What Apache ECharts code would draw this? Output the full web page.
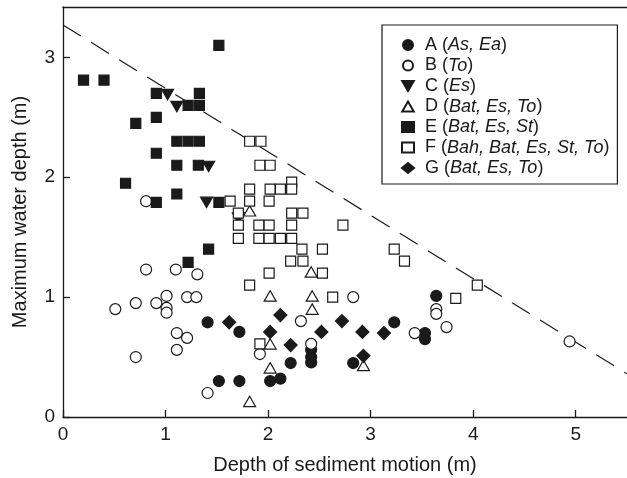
<!DOCTYPE html>
<html>
<head>
<meta charset="utf-8">
<script src="https://cdn.jsdelivr.net/npm/echarts@6/dist/echarts.min.js"></script>
<style>
  html, body { margin: 0; padding: 0; background: #fff; }
  #chart { width: 627px; height: 478px; }
</style>
</head>
<body>
<div id="chart"></div>
<script>
// group letters and the taxa that go in italics in the legend
const groupNames = ["A", "B", "C", "D", "E", "F", "G"];
const groupTaxa = ["As, Ea", "To", "Es", "Bat, Es, To", "Bat, Es, St", "Bah, Bat, Es, St, To", "Bat, Es, To"];

// depth of sediment motion (m) and maximum water depth (m), per group
const aDepth = [1.41, 1.72, 1.52, 1.72, 2.02, 2.12, 2.22, 2.42, 2.42, 2.42, 2.83, 3.23, 3.53, 3.53, 3.64];
const aWater = [0.79, 0.71, 0.30, 0.30, 0.30, 0.32, 0.45, 0.56, 0.50, 0.455, 0.45, 0.79, 0.70, 0.65, 1.01];

const bDepth = [0.81, 0.81, 1.10, 1.31, 0.51, 0.71, 0.91, 1.01, 1.01, 1.01, 1.21, 1.30, 1.11, 1.21, 1.11, 0.71, 1.41, 1.92, 2.32, 2.42, 2.83, 3.43, 3.64, 3.64, 3.74, 4.94];
const bWater = [1.80, 1.23, 1.23, 1.19, 0.90, 0.95, 0.95, 1.01, 0.91, 0.87, 1.00, 1.00, 0.70, 0.66, 0.56, 0.50, 0.20, 0.525, 0.80, 0.61, 1.00, 0.70, 0.90, 0.86, 0.75, 0.63];

const cDepth = [1.02, 1.11, 1.42, 1.40, 1.71];
const cWater = [2.69, 2.59, 2.09, 1.79, 1.66];

const dDepth = [1.82, 2.42, 2.02, 2.43, 2.43, 2.02, 2.93, 2.02, 1.82];
const dWater = [1.72, 1.21, 1.01, 1.01, 0.90, 0.61, 0.43, 0.41, 0.13];

const eDepth = [1.52, 0.20, 0.40, 0.91, 1.33, 1.22, 1.33, 0.71, 0.91, 1.11, 1.22, 1.33, 0.91, 1.11, 1.32, 0.61, 0.91, 1.11, 1.52, 1.42, 1.22];
const eWater = [3.10, 2.81, 2.81, 2.70, 2.70, 2.60, 2.60, 2.45, 2.50, 2.30, 2.30, 2.30, 2.20, 2.10, 2.10, 1.95, 1.79, 1.86, 1.79, 1.40, 1.29];

const fDepth = [1.82, 1.93, 1.92, 2.02, 2.23, 1.82, 2.02, 2.12, 2.23, 1.63, 1.82, 2.01, 1.71, 2.23, 2.34, 1.71, 1.91, 2.01, 2.23, 2.73, 1.71, 1.91, 2.01, 2.12, 2.23, 2.33, 2.53, 3.23, 2.22, 2.34, 3.33, 2.53, 2.01, 1.82, 2.63, 1.92, 3.83, 4.04];
const fWater = [2.30, 2.30, 2.10, 2.10, 1.96, 1.90, 1.90, 1.90, 1.90, 1.80, 1.80, 1.80, 1.70, 1.70, 1.70, 1.60, 1.60, 1.60, 1.60, 1.60, 1.49, 1.49, 1.49, 1.49, 1.49, 1.40, 1.40, 1.40, 1.30, 1.30, 1.30, 1.20, 1.20, 1.10, 1.00, 0.61, 0.99, 1.10];

const gDepth = [1.62, 2.12, 2.72, 2.02, 2.52, 2.92, 3.13, 2.22, 2.93];
const gWater = [0.79, 0.85, 0.80, 0.71, 0.71, 0.71, 0.70, 0.60, 0.51];

// dashed limit line
const limitDepth = [0, 5.5];
const limitWater = [3.27, 0.36];

const xTicks = [0, 1, 2, 3, 4, 5];
const yTicks = [0, 1, 2, 3];

const ink = "#1a1a1a";
const font = "Liberation Sans";

const groupDepth = [aDepth, bDepth, cDepth, dDepth, eDepth, fDepth, gDepth];
const groupWater = [aWater, bWater, cWater, dWater, eWater, fWater, gWater];

const triDown = "path://M0,0L10,0L5,8.66Z";
const triUp = "path://M5,0L10,8.66L0,8.66Z";

// marker look for each group
const markerStyle = [
    { symbol: "circle", size: 11, fill: ink },
    { symbol: "circle", size: 11, fill: "#fff" },
    { symbol: triDown, size: 12, fill: ink },
    { symbol: triUp, size: 12, fill: "#fff" },
    { symbol: "rect", size: 10, fill: ink },
    { symbol: "rect", size: 10, fill: "#fff" },
    { symbol: "diamond", size: 13, fill: ink },
];

function zip(xs, ys) {
    return xs.map((x, i) => [x, ys[i]]);
}

const series = [{
    name: "limit",
    type: "line",
    data: zip(limitDepth, limitWater),
    symbol: "none",
    silent: true,
    z: 1,
    lineStyle: { color: ink, width: 1.2, type: [21, 12] },
}];

groupNames.forEach((name, i) => {
    const st = markerStyle[i];
    series.push({
        name: name,
        type: "scatter",
        data: zip(groupDepth[i], groupWater[i]),
        symbol: st.symbol,
        symbolSize: st.size,
        symbolKeepAspect: true,
        z: 3,
        itemStyle: { color: st.fill, borderColor: ink, borderWidth: 1.2, opacity: 1 },
    });
});

const chart = echarts.init(document.getElementById("chart"), null, { renderer: "canvas" });

chart.setOption({
    animation: false,
    backgroundColor: "#fff",
    grid: { left: 63, right: 0, top: 7, bottom: 61, containLabel: false, outerBoundsMode: "none" },
    legend: {
        data: groupNames.map((name, i) => ({ name: name, icon: markerStyle[i].symbol })),
        orient: "vertical",
        left: 382,
        top: 25,
        itemWidth: 12,
        itemHeight: 10,
        itemGap: 2.5,
        symbolKeepAspect: true,
        padding: [11, 8, 7, 19],
        borderColor: ink,
        borderWidth: 1.2,
        selectedMode: false,
        formatter: name => name + " ({i|" + groupTaxa[groupNames.indexOf(name)] + "})",
        textStyle: {
            fontFamily: font, fontSize: 18, color: ink, lineHeight: 18, padding: [0, 0, 0, 6],
            rich: { i: { fontFamily: font, fontSize: 18, fontStyle: "italic", color: ink, lineHeight: 18 } },
        },
    },
    xAxis: [{
        type: "value",
        min: 0,
        max: 5.5,
        interval: 1,
        name: "Depth of sediment motion (m)",
        nameLocation: "middle",
        nameGap: 38,
        nameTextStyle: { fontFamily: font, fontSize: 20, color: ink },
        splitLine: { show: false },
        axisLine: { lineStyle: { color: ink, width: 1.3 } },
        axisTick: { inside: true, length: 7, customValues: xTicks, lineStyle: { color: ink, width: 1.3 } },
        axisLabel: { customValues: xTicks, fontFamily: font, fontSize: 19, color: ink, margin: 8 },
    }, {
        type: "value",
        position: "top",
        min: 0,
        max: 5.5,
        axisLine: { show: true, lineStyle: { color: ink, width: 1.3 } },
        axisTick: { show: false },
        axisLabel: { show: false },
        splitLine: { show: false },
    }],
    yAxis: {
        type: "value",
        min: 0,
        max: 3.42,
        interval: 1,
        name: "Maximum water depth (m)",
        nameLocation: "middle",
        nameRotate: 90,
        nameGap: 33,
        nameTextStyle: { fontFamily: font, fontSize: 20, color: ink },
        splitLine: { show: false },
        axisLine: { show: true, lineStyle: { color: ink, width: 1.3 } },
        axisTick: { show: true, inside: true, length: 7, customValues: yTicks, lineStyle: { color: ink, width: 1.3 } },
        axisLabel: { customValues: yTicks, fontFamily: font, fontSize: 19, color: ink, margin: 8 },
    },
    series: series,
});
</script>
</body>
</html>
